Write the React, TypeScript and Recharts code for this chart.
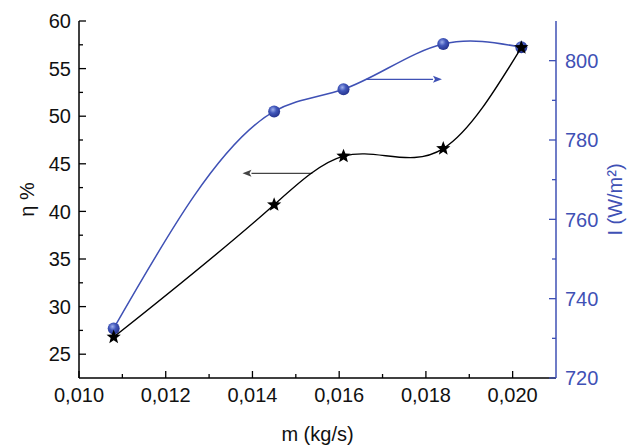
import { LineChart, Line, XAxis, YAxis, ReferenceLine } from "recharts";

// mass flow rate (kg/s)
const massFlow = [0.0108, 0.0145, 0.0161, 0.0184, 0.0202];
// efficiency η (%)
const efficiency = [26.8, 40.7, 45.8, 46.6, 57.2];
// solar irradiance I (W/m²)
const irradiance = [732.5, 787.2, 792.8, 804.2, 803.4];

const xTicks = [0.01, 0.011, 0.012, 0.013, 0.014, 0.015, 0.016, 0.017, 0.018, 0.019, 0.02];
const etaTicks = [25, 27.5, 30, 32.5, 35, 37.5, 40, 42.5, 45, 47.5, 50, 52.5, 55, 57.5, 60];
const irrTicks = [720, 730, 740, 750, 760, 770, 780, 790, 800];

// arrow hints pointing to each axis
const etaArrow = { from: 0.01538, to: 0.01377, level: 44 };
const irrArrow = { from: 0.01662, to: 0.01837, level: 795.3 };

const data = massFlow.map((m, i) => ({ m, eta: efficiency[i], irr: irradiance[i] }));

const BLUE = "#3f51b5";
const FONT = "'Liberation Sans', Arial, sans-serif";
const FS = 20;

const fmtX = (v: number) => v.toFixed(3).replace(".", ",");

// natural cubic spline of y over x (like Origin's spline connector)
const splineCurve = (context: any) => {
  let xs: number[] = [];
  let ys: number[] = [];
  return {
    areaStart() {},
    areaEnd() {},
    lineStart() {
      xs = [];
      ys = [];
    },
    point(x: number, y: number) {
      xs.push(+x);
      ys.push(+y);
    },
    lineEnd() {
      const n = xs.length;
      if (!n) return;
      context.moveTo(xs[0], ys[0]);
      if (n === 1) return;
      if (n === 2) {
        context.lineTo(xs[1], ys[1]);
        return;
      }
      const h: number[] = [];
      for (let i = 0; i < n - 1; i++) h.push(xs[i + 1] - xs[i]);
      // solve tridiagonal for second derivatives
      const M = new Array(n).fill(0);
      const a: number[] = [], b: number[] = [], c: number[] = [], r: number[] = [];
      for (let i = 1; i < n - 1; i++) {
        a.push(h[i - 1]);
        b.push(2 * (h[i - 1] + h[i]));
        c.push(h[i]);
        r.push(6 * ((ys[i + 1] - ys[i]) / h[i] - (ys[i] - ys[i - 1]) / h[i - 1]));
      }
      const m = b.length;
      for (let i = 1; i < m; i++) {
        const w = a[i] / b[i - 1];
        b[i] -= w * c[i - 1];
        r[i] -= w * r[i - 1];
      }
      const sol = new Array(m).fill(0);
      sol[m - 1] = r[m - 1] / b[m - 1];
      for (let i = m - 2; i >= 0; i--) sol[i] = (r[i] - c[i] * sol[i + 1]) / b[i];
      for (let i = 0; i < m; i++) M[i + 1] = sol[i];
      for (let i = 0; i < n - 1; i++) {
        const s = (ys[i + 1] - ys[i]) / h[i];
        const d0 = s - (h[i] * (2 * M[i] + M[i + 1])) / 6;
        const d1 = s + (h[i] * (M[i] + 2 * M[i + 1])) / 6;
        context.bezierCurveTo(
          xs[i] + h[i] / 3,
          ys[i] + (d0 * h[i]) / 3,
          xs[i + 1] - h[i] / 3,
          ys[i + 1] - (d1 * h[i]) / 3,
          xs[i + 1],
          ys[i + 1]
        );
      }
    },
  };
};

const BottomTick = ({ x, y, payload }: any) => {
  const major = Math.round(payload.value * 1000) % 2 === 0;
  return (
    <g>
      <line x1={x} x2={x} y1={y} y2={y - (major ? 7 : 4)} stroke="#000" strokeWidth={1.3} />
      {major && (
        <text x={x} y={y + 24} textAnchor="middle" fontSize={FS} fontFamily={FONT} fill="#111">
          {fmtX(payload.value)}
        </text>
      )}
    </g>
  );
};

const TopTick = ({ x, y, payload }: any) => {
  const major = Math.round(payload.value * 1000) % 2 === 0;
  return <line x1={x} x2={x} y1={y} y2={y + (major ? 7 : 4)} stroke="#000" strokeWidth={1.3} />;
};

const LeftTick = ({ x, y, payload }: any) => {
  const major = payload.value % 5 === 0;
  return (
    <g>
      <line x1={x} x2={x + (major ? 7 : 4)} y1={y} y2={y} stroke="#000" strokeWidth={1.3} />
      {major && (
        <text x={x - 8} y={y} dy="0.36em" textAnchor="end" fontSize={FS} fontFamily={FONT} fill="#111">
          {payload.value}
        </text>
      )}
    </g>
  );
};

const RightTick = ({ x, y, payload }: any) => {
  const major = payload.value % 20 === 0;
  return (
    <g>
      <line x1={x} x2={x - (major ? 7 : 4)} y1={y} y2={y} stroke={BLUE} strokeWidth={1.3} />
      {major && (
        <text x={x + 9} y={y} dy="0.36em" textAnchor="start" fontSize={FS} fontFamily={FONT} fill={BLUE}>
          {payload.value}
        </text>
      )}
    </g>
  );
};

const Star = ({ cx, cy }: any) => {
  if (cx == null || cy == null) return null;
  const pts: string[] = [];
  for (let i = 0; i < 10; i++) {
    const r = i % 2 === 0 ? 7.5 : 3.2;
    const a = -Math.PI / 2 + (i * Math.PI) / 5;
    pts.push(`${cx + r * Math.cos(a)},${cy + r * Math.sin(a)}`);
  }
  return <polygon points={pts.join(" ")} fill="#000" />;
};

const Sphere = ({ cx, cy }: any) => {
  if (cx == null || cy == null) return null;
  return <circle cx={cx} cy={cy} r={6} fill="url(#sphereGrad)" />;
};

const arrowShape = (color: string) => (props: any) => {
  const { x1, y1, x2, y2 } = props;
  const dir = Math.sign(x2 - x1) || 1;
  const tip = x2;
  const base = x2 - dir * 9;
  return (
    <g>
      <line x1={x1} y1={y1} x2={base} y2={y2} stroke={color} strokeWidth={1.2} />
      <polygon points={`${tip},${y2} ${base},${y2 - 3.5} ${base + dir * 2},${y2} ${base},${y2 + 3.5}`} fill={color} />
    </g>
  );
};

export default function App() {
  return (
    <div style={{ position: "absolute", left: 0, top: 0, background: "#fff" }}>
      <LineChart
        width={637}
        height={447}
        data={data}
        margin={{ top: 21, right: 0, bottom: 0, left: 0 }}
        style={{ fontFamily: FONT }}
      >
        <defs>
          <radialGradient id="sphereGrad" cx="40%" cy="35%" r="65%">
            <stop offset="0%" stopColor="#9fb0ec" />
            <stop offset="45%" stopColor="#4258bb" />
            <stop offset="100%" stopColor="#26348f" />
          </radialGradient>
        </defs>
        <XAxis
          dataKey="m"
          type="number"
          domain={[0.01, 0.021]}
          ticks={xTicks}
          interval={0}
          height={69}
          tickSize={0}
          tickMargin={0}
          tickLine={false}
          tick={<BottomTick />}
          axisLine={{ stroke: "#000", strokeWidth: 1.5 }}
          allowDataOverflow
          label={{
            content: ({ viewBox }: any) => (
              <text
                x={viewBox.x + viewBox.width / 2}
                y={viewBox.y + 63}
                textAnchor="middle"
                fontSize={FS}
                fontFamily={FONT}
                fill="#111"
              >
                m (kg/s)
              </text>
            ),
          }}
        />
        <XAxis
          xAxisId="top"
          dataKey="m"
          type="number"
          orientation="top"
          domain={[0.01, 0.021]}
          ticks={xTicks}
          interval={0}
          height={0}
          tickSize={0}
          tickMargin={0}
          tickLine={false}
          tick={<TopTick />}
          axisLine={{ stroke: "#000", strokeWidth: 1.5 }}
          allowDataOverflow
        />
        <YAxis
          yAxisId="eta"
          type="number"
          domain={[22.5, 60]}
          ticks={etaTicks}
          interval={0}
          width={79}
          tickSize={0}
          tickMargin={0}
          tickLine={false}
          tick={<LeftTick />}
          axisLine={{ stroke: "#000", strokeWidth: 1.5 }}
          allowDataOverflow
          label={{
            content: ({ viewBox }: any) => {
              const cx = viewBox.x + 27;
              const cy = viewBox.y + viewBox.height / 2;
              return (
                <text
                  x={cx}
                  y={cy}
                  transform={`rotate(-90 ${cx} ${cy})`}
                  textAnchor="middle"
                  dominantBaseline="central"
                  fontSize={FS}
                  fontFamily={FONT}
                  fill="#111"
                >
                  η %
                </text>
              );
            },
          }}
        />
        <YAxis
          yAxisId="irr"
          orientation="right"
          type="number"
          domain={[720, 810]}
          ticks={irrTicks}
          interval={0}
          width={81}
          tickSize={0}
          tickMargin={0}
          tickLine={false}
          tick={<RightTick />}
          axisLine={{ stroke: BLUE, strokeWidth: 1.5 }}
          allowDataOverflow
          label={{
            content: ({ viewBox }: any) => {
              const cx = viewBox.x + 59;
              const cy = viewBox.y + viewBox.height / 2;
              return (
                <text
                  x={cx}
                  y={cy}
                  transform={`rotate(-90 ${cx} ${cy})`}
                  textAnchor="middle"
                  dominantBaseline="central"
                  fontSize={FS}
                  fontFamily={FONT}
                  fill={BLUE}
                >
                  I (W/m²)
                </text>
              );
            },
          }}
        />
        <ReferenceLine
          yAxisId="eta"
          segment={[
            { x: etaArrow.from, y: etaArrow.level },
            { x: etaArrow.to, y: etaArrow.level },
          ]}
          shape={arrowShape("#444")}
        />
        <ReferenceLine
          yAxisId="irr"
          segment={[
            { x: irrArrow.from, y: irrArrow.level },
            { x: irrArrow.to, y: irrArrow.level },
          ]}
          shape={arrowShape(BLUE)}
        />
        <Line
          yAxisId="irr"
          dataKey="irr"
          type={splineCurve as any}
          stroke={BLUE}
          strokeWidth={1.5}
          dot={<Sphere />}
          activeDot={false}
          isAnimationActive={false}
        />
        <Line
          yAxisId="eta"
          dataKey="eta"
          type={splineCurve as any}
          stroke="#000"
          strokeWidth={1.4}
          dot={<Star />}
          activeDot={false}
          isAnimationActive={false}
        />
      </LineChart>
    </div>
  );
}
